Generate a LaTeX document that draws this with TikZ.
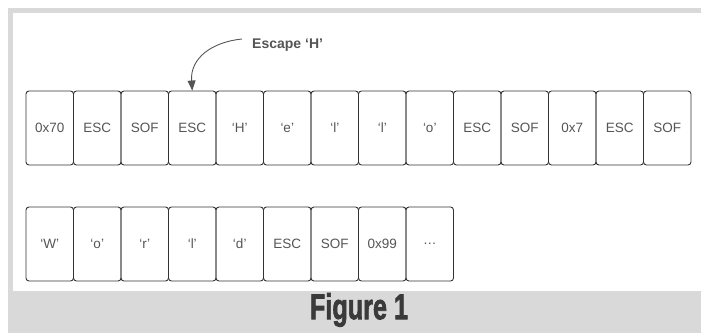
\documentclass[tikz,border=0pt]{standalone}
\usepackage{fontspec}
\setmainfont{Liberation Sans}
\newfontfamily\figfont[UprightFont={* Bold}, FakeBold=2.2]{Liberation Sans}
\usetikzlibrary{arrows.meta}
\definecolor{framegrey}{HTML}{D9D9D9}
\definecolor{boxline}{HTML}{333333}
\definecolor{txtgrey}{HTML}{555555}
\definecolor{figtxt}{HTML}{3A3A3A}
\begin{document}
\begin{tikzpicture}[x=1pt,y=-1pt,
  cell/.style={draw=boxline, line width=0.9pt, rounded corners=3pt, minimum width=47.5pt, minimum height=74pt, inner sep=0pt, font=\fontsize{13.5}{15}\selectfont, text=txtgrey},
  callout/.style={font=\fontsize{14}{16}\selectfont\bfseries, text=txtgrey, inner sep=0pt},
  pointer/.style={draw=txtgrey, line width=0.9pt, -{Triangle[length=10pt,width=8pt]}}
]
\useasboundingbox (0,0) rectangle (701,333);
% frame
\fill[framegrey] (8,8) rectangle (701,13);
\fill[framegrey] (8,8) rectangle (13,333);
\fill[framegrey] (8,291) rectangle (701,333);
\node[font=\fontsize{36}{40}\selectfont\figfont, text=figtxt, inner sep=0pt] (fig) at (359,310) {\scalebox{0.7}[1]{Figure 1}};
% row 1
\foreach \t [count=\i from 0] in {0x70,ESC,SOF,ESC,‘H’,‘e’,‘l’,‘l’,‘o’,ESC,SOF,0x7,ESC,SOF}{
  \node[cell] (a\i) at ({26+23.75+47.5*\i},128) {\t};
}
% row 2
\foreach \t [count=\i from 0] in {‘W’,‘o’,‘r’,‘l’,‘d’,ESC,SOF,0x99,…}{
  \node[cell] (b\i) at ({26+23.75+47.5*\i},244) {\t};
}
\node[callout, anchor=base west] (lab) at (252,48) {Escape ‘H’};
\coordinate (start) at (242,39);
\draw[pointer] (start) .. controls (212,42) and (190,58) .. (a3.north);
\end{tikzpicture}
\end{document}
